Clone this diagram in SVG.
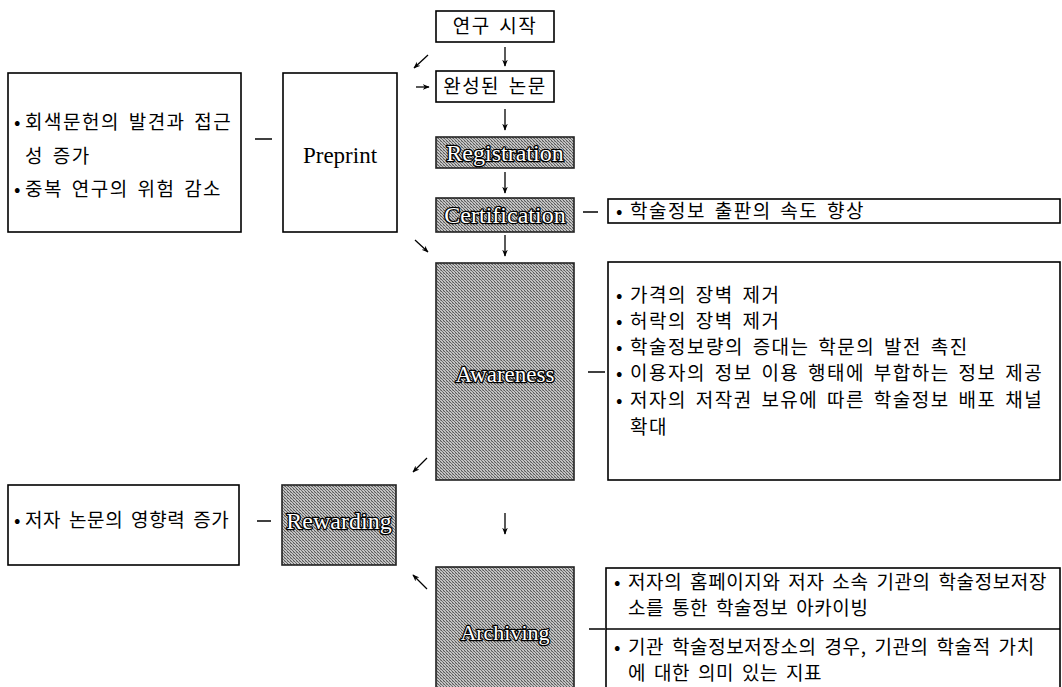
<svg xmlns="http://www.w3.org/2000/svg" width="1062" height="687" viewBox="0 0 1062 687">
<defs>
<pattern id="stipple" width="3" height="3" patternUnits="userSpaceOnUse">
<rect width="3" height="3" fill="#c4c4c4"/>
<rect x="0" y="0" width="1" height="1" fill="#5a5a5a"/>
<rect x="1" y="1" width="1" height="1" fill="#6e6e6e"/>
<rect x="2" y="2" width="1" height="1" fill="#5a5a5a"/>
<rect x="2" y="0" width="1" height="1" fill="#999"/>
</pattern>
<marker id="ah" viewBox="0 0 10 10" refX="9" refY="5" markerWidth="7" markerHeight="7" orient="auto" markerUnits="userSpaceOnUse">
<path d="M0,1 L10,5 L0,9 L3,5 Z" fill="#000"/>
</marker>
</defs>
<style>
.box{fill:#fff;stroke:#000;stroke-width:1.6}
.gbox{fill:url(#stipple);stroke:#222;stroke-width:1.6}
.kr{font-family:"Noto Sans CJK KR","Noto Sans",sans-serif;font-size:19px;letter-spacing:1.5px;word-spacing:3px;fill:#000}
.tight{letter-spacing:0.6px}
.lbl{font-family:"Liberation Serif",serif;fill:#fff;stroke:#000;stroke-width:2.6;paint-order:stroke;stroke-linejoin:round;text-anchor:middle}
.pp{font-family:"Liberation Serif","Times New Roman",serif;font-size:23px;fill:#000;text-anchor:middle}
.arr{stroke:#000;stroke-width:1.3;fill:none;marker-end:url(#ah)}
.dash{stroke:#000;stroke-width:1.5;fill:none}
</style>
<rect width="1062" height="687" fill="#fff"/>

<g id="start">
<rect class="box" x="436" y="11" width="118" height="31"/>
<text class="kr" x="495" y="33" text-anchor="middle">연구 시작</text>
</g>
<g id="paper">
<rect class="box" x="436" y="71" width="118" height="31"/>
<text class="kr" x="495" y="93" text-anchor="middle">완성된 논문</text>
</g>
<g id="registration">
<rect class="gbox" x="436" y="137" width="138" height="31"/>
<text class="lbl" x="505" y="161" font-size="24">Registration</text>
</g>
<g id="certification">
<rect class="gbox" x="436" y="198" width="138" height="34"/>
<text class="lbl" x="505" y="223" font-size="24">Certification</text>
</g>
<g id="awareness">
<rect class="gbox" x="436" y="263" width="138" height="217"/>
<text class="lbl" x="505" y="382" font-size="23">Awareness</text>
</g>
<g id="archiving">
<rect class="gbox" x="436" y="567" width="138" height="140"/>
<text class="lbl" x="505" y="640" font-size="22">Archiving</text>
</g>
<g id="preprint">
<rect class="box" x="283" y="73" width="114" height="159"/>
<text class="pp" x="340" y="163">Preprint</text>
</g>
<g id="rewarding">
<rect class="gbox" x="282" y="485" width="114" height="80"/>
<text class="lbl" x="339" y="529" font-size="24">Rewarding</text>
</g>
<g id="preprint-benefits">
<rect class="box" x="8" y="73" width="233" height="159"/>
<text class="kr"><tspan x="14" y="129">•</tspan><tspan x="25" y="129">회색문헌의 발견과 접근</tspan><tspan x="25" y="163">성 증가</tspan></text>
<text class="kr"><tspan x="14" y="196">•</tspan><tspan x="25" y="196">중복 연구의 위험 감소</tspan></text>
</g>
<g id="rewarding-benefits">
<rect class="box" x="8" y="485" width="231" height="80"/>
<text class="kr tight"><tspan x="14" y="527">•</tspan><tspan x="25" y="527">저자 논문의 영향력 증가</tspan></text>
</g>
<g id="certification-benefits">
<rect class="box" x="608" y="199" width="452" height="24"/>
<text class="kr"><tspan x="616" y="218">•</tspan><tspan x="630" y="218">학술정보 출판의 속도 향상</tspan></text>
</g>
<g id="awareness-benefits">
<rect class="box" x="608" y="262" width="452" height="218"/>
<text class="kr"><tspan x="616" y="302">•</tspan><tspan x="630" y="302">가격의 장벽 제거</tspan></text>
<text class="kr"><tspan x="616" y="328">•</tspan><tspan x="630" y="328">허락의 장벽 제거</tspan></text>
<text class="kr"><tspan x="616" y="354">•</tspan><tspan x="630" y="354">학술정보량의 증대는 학문의 발전 촉진</tspan></text>
<text class="kr"><tspan x="616" y="380">•</tspan><tspan x="630" y="380">이용자의 정보 이용 행태에 부합하는 정보 제공</tspan></text>
<text class="kr"><tspan x="616" y="407">•</tspan><tspan x="630" y="407">저자의 저작권 보유에 따른 학술정보 배포 채널</tspan><tspan x="630" y="434">확대</tspan></text>
</g>
<g id="archiving-benefits">
<rect class="box" x="606" y="568" width="454" height="140"/>
<line x1="606" y1="629" x2="1060" y2="629" stroke="#000" stroke-width="1.6"/>
<text class="kr tight"><tspan x="614" y="589">•</tspan><tspan x="628" y="589">저자의 홈페이지와 저자 소속 기관의 학술정보저장</tspan><tspan x="628" y="615">소를 통한 학술정보 아카이빙</tspan></text>
<text class="kr tight"><tspan x="614" y="654">•</tspan><tspan x="628" y="654">기관 학술정보저장소의 경우, 기관의 학술적 가치</tspan><tspan x="628" y="680">에 대한 의미 있는 지표</tspan></text>
</g>

<g id="connectors">
<line class="arr" x1="505" y1="47" x2="505" y2="66"/>
<line class="arr" x1="428" y1="55" x2="414" y2="68"/>
<line class="arr" x1="416" y1="87" x2="429" y2="87"/>
<line class="arr" x1="505" y1="109" x2="505" y2="130"/>
<line class="arr" x1="505" y1="172" x2="505" y2="193"/>
<line class="arr" x1="415" y1="240" x2="428" y2="252"/>
<line class="arr" x1="505" y1="235" x2="505" y2="256"/>
<line class="arr" x1="427" y1="458" x2="413" y2="472"/>
<line class="arr" x1="505" y1="513" x2="505" y2="534"/>
<line class="arr" x1="427" y1="589" x2="413" y2="575"/>
<line class="dash" x1="255" y1="139" x2="272" y2="139"/>
<line class="dash" x1="583" y1="212" x2="598" y2="212"/>
<line class="dash" x1="588" y1="372" x2="605" y2="372"/>
<line class="dash" x1="257" y1="521" x2="271" y2="521"/>
<line class="dash" x1="589" y1="629" x2="605" y2="629"/>
</g>
</svg>
